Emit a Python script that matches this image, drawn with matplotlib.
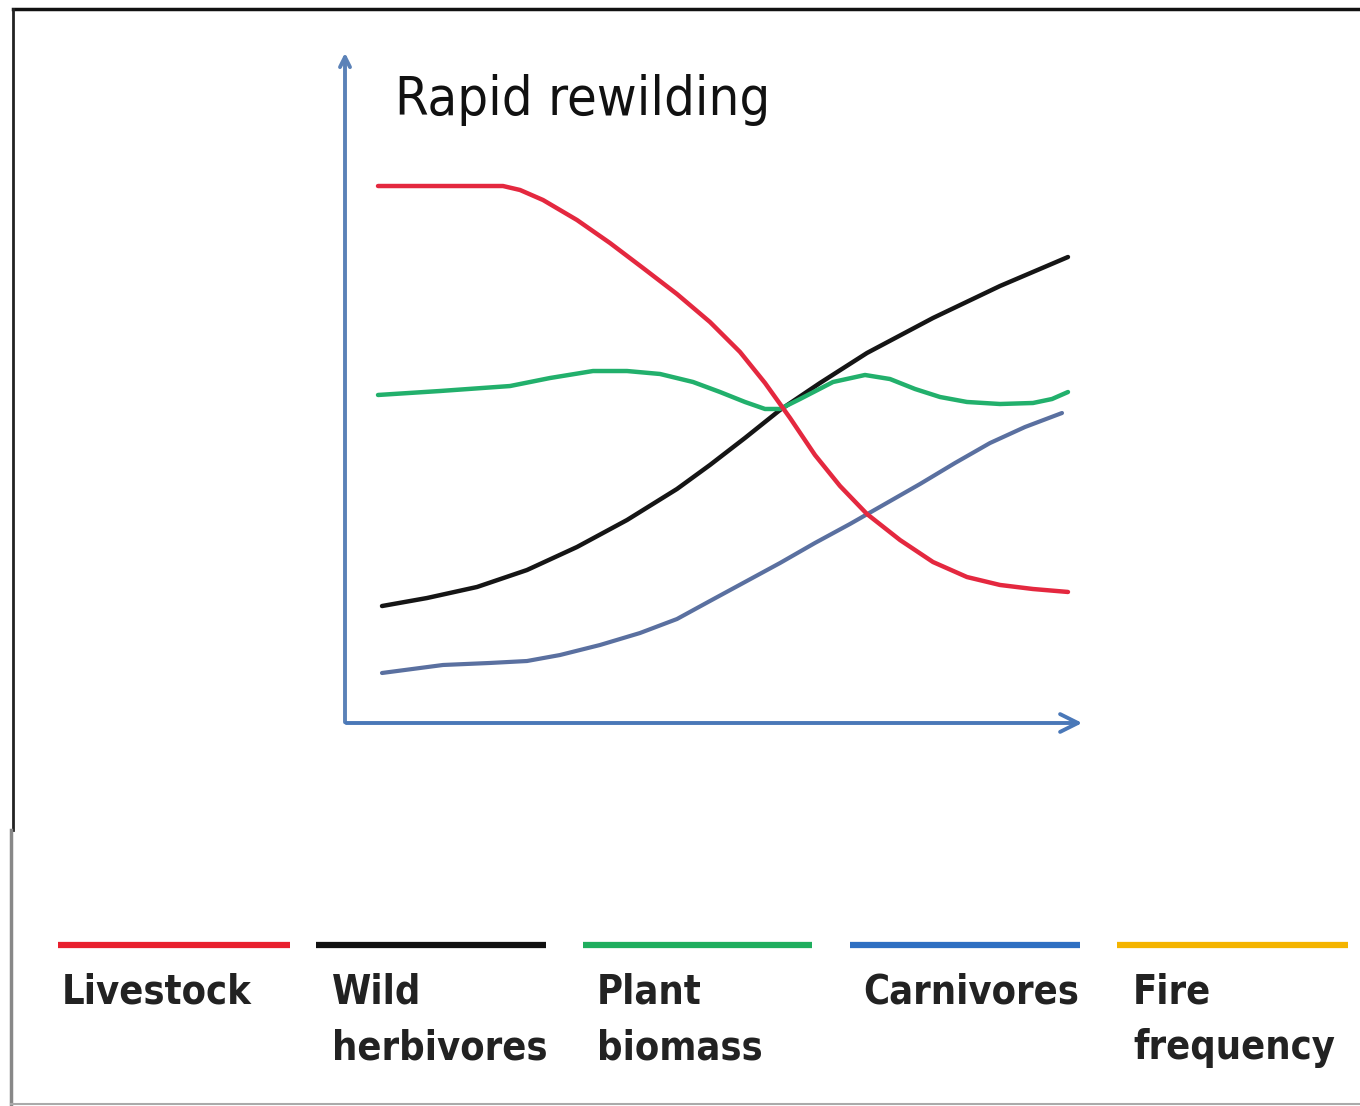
import matplotlib.pyplot as plt
from matplotlib.lines import Line2D

# curve values (x: time 0-100, y: relative level 0-100)
livestock_x = [4.46, 21.35, 23.65, 26.76, 31.35, 35.81, 40.27, 44.86, 49.32, 53.38, 56.76,
               60.14, 63.51, 66.89, 70.54, 75.0, 79.46, 84.05, 88.51, 92.97, 97.70]
livestock_y = [79.79, 79.79, 79.20, 77.71, 74.74, 71.32, 67.61, 63.74, 59.58, 55.13, 50.52,
               45.32, 39.82, 35.22, 31.05, 27.19, 23.92, 21.69, 20.51, 19.91, 19.47]

herb_x = [5.0, 11.08, 17.84, 24.59, 31.35, 38.11, 44.86, 49.32, 54.05, 58.78, 64.19,
          70.54, 79.46, 88.51, 97.70]
herb_y = [17.38, 18.57, 20.21, 22.73, 26.15, 30.16, 34.77, 38.34, 42.35, 46.51, 50.52,
          54.98, 60.18, 64.93, 69.24]

plant_x = [4.46, 12.84, 22.30, 27.70, 33.51, 38.11, 42.57, 47.03, 50.68, 54.05, 56.76, 58.78,
           61.49, 65.95, 70.27, 73.65, 77.03, 80.41, 84.05, 88.51, 92.97, 95.54, 97.70]
plant_y = [48.74, 49.33, 50.07, 51.26, 52.30, 52.30, 51.86, 50.67, 49.18, 47.70, 46.66, 46.66,
           48.14, 50.67, 51.71, 51.11, 49.63, 48.44, 47.70, 47.40, 47.55, 48.14, 49.18]

carn_x = [5.0, 13.24, 19.59, 24.59, 29.05, 34.46, 39.86, 44.86, 49.32, 54.05, 58.78,
          63.51, 68.24, 72.97, 77.70, 82.43, 87.16, 91.89, 96.89]
carn_y = [7.43, 8.62, 8.92, 9.21, 10.10, 11.59, 13.37, 15.45, 18.13, 20.95, 23.77,
          26.75, 29.57, 32.54, 35.51, 38.63, 41.60, 43.98, 46.06]

legend_labels = ['Livestock', 'Wild\nherbivores', 'Plant\nbiomass', 'Carnivores', 'Fire\nfrequency']
legend_colors = ['#e8202e', '#111111', '#1fae5e', '#2e6fc2', '#f4b400']

W, H = 1360, 1106
fig = plt.figure(figsize=(W / 100, H / 100), dpi=100)

ax = fig.add_axes([345 / W, (H - 723) / H, 740 / W, 673 / H])
ax.set_xlim(0, 100)
ax.set_ylim(0, 100)
ax.axis('off')

axis_col = '#5b82b8'
ax.annotate('', xy=(0, 100), xytext=(0, -0.3),
            arrowprops=dict(arrowstyle='->', color=axis_col, lw=2.8, mutation_scale=18))
ax.annotate('', xy=(100, 0), xytext=(-0.2, 0),
            arrowprops=dict(arrowstyle='->', color='#4a78b8', lw=2.8, mutation_scale=32))

style = dict(solid_capstyle='round', solid_joinstyle='round')
ax.plot(herb_x, herb_y, color='#151515', lw=3.2, **style)
ax.plot(carn_x, carn_y, color='#5a70a0', lw=3.0, **style)
ax.plot(plant_x, plant_y, color='#22b06c', lw=3.2, **style)
ax.plot(livestock_x, livestock_y, color='#e4283f', lw=3.2, **style)

fig.text(395 / W, 1 - 115 / H, 'Rapid rewilding', va='baseline', ha='left',
         fontsize=39, family='DejaVu Sans', fontstretch='condensed', color='#111111')

# legend strip under the chart
seg_x = [(58, 290), (316, 546), (583, 812), (850, 1080), (1117, 1348)]
text_x = [62, 332, 597, 863, 1133]
for (x0, x1), tx, lab, col in zip(seg_x, text_x, legend_labels, legend_colors):
    fig.add_artist(Line2D([x0 / W, x1 / W], [1 - 945 / H] * 2, color=col, lw=4.5,
                          solid_capstyle='butt', transform=fig.transFigure))
    fig.text(tx / W, 1 - 973 / H, lab, va='top', ha='left', fontsize=28.5,
             fontweight='bold', linespacing=1.5, color='#222222',
             family='DejaVu Sans', fontstretch='condensed')

# outer frame
fig.add_artist(Line2D([13 / W, 1], [1 - 9 / H] * 2, color='#111111', lw=2.5,
                      transform=fig.transFigure))
fig.add_artist(Line2D([13 / W] * 2, [1 - 9 / H, 1 - 830 / H], color='#222222', lw=2,
                      transform=fig.transFigure))
fig.add_artist(Line2D([11 / W] * 2, [1 - 830 / H, 1 - 1104 / H], color='#888888', lw=2.5,
                      transform=fig.transFigure))
fig.add_artist(Line2D([11 / W, 1], [1 - 1104 / H] * 2, color='#aaaaaa', lw=1.5,
                      transform=fig.transFigure))

fig.savefig('out.png', dpi=100)
